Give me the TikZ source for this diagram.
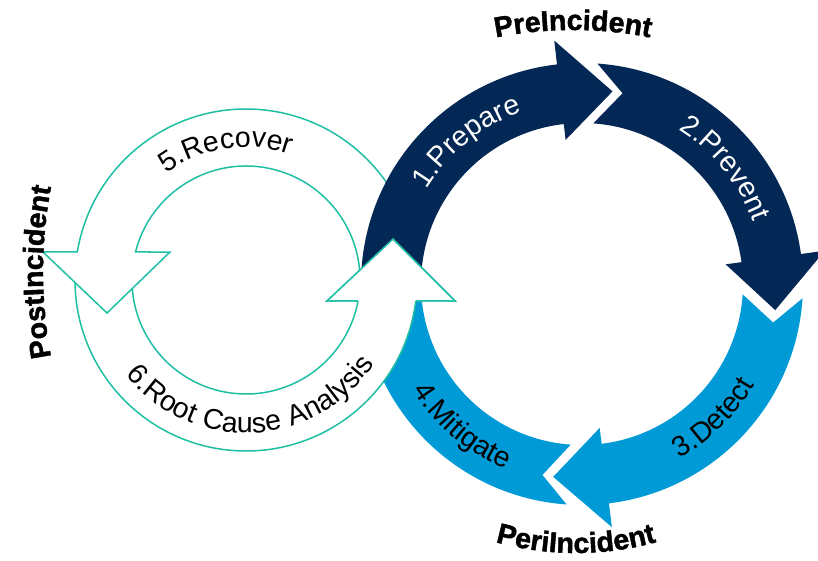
\documentclass[tikz,border=0pt]{standalone}
\usepackage{fontspec}
\setsansfont{Liberation Sans}
\newfontfamily\armfont{Liberation Sans}[LetterSpace=4]
\newfontfamily\hdfont{Liberation Sans Bold}[FakeBold=1.6,LetterSpace=2]
\usetikzlibrary{decorations.text}
\definecolor{navyc}{HTML}{032855}
\definecolor{bluec}{HTML}{009AD6}
\definecolor{tealc}{HTML}{1FBFA3}
\newcommand\armW{\fontsize{28.5}{30}\selectfont\armfont\color{white}}
\newcommand\armK{\fontsize{28.5}{30}\selectfont\armfont\color{black}}
\newcommand\hdK{\fontsize{28.5}{30}\selectfont\hdfont\color{black}}
\tikzset{
  navyarrow/.style={fill=navyc},
  bluearrow/.style={fill=bluec},
  tealarrow/.style={draw=tealc, line width=1.5pt, fill=white},
  tealline/.style={draw=tealc, line width=1.5pt},
  arclabel/.style={decorate, decoration={text along path, text align=center, text={#1}}}
}
\begin{document}
\begin{tikzpicture}[x=1pt,y=1pt]
\useasboundingbox (0,0) rectangle (818,-561);
\coordinate (R) at (582,-284);
\coordinate (L) at (246,-280);
% ---- right ring: blue arrows ----
\path[bluearrow] ([shift={(-94:221)}]R) arc[start angle=-94, end angle=-180, radius=221]
  -- ([shift={(-180:161)}]R) arc[start angle=-180, end angle=-94, radius=161]
  -- ([shift={(-101.7:195)}]R) -- cycle;
\path[bluearrow] ([shift={(-3.7:221)}]R) arc[start angle=-3.7, end angle=-83, radius=221]
  -- ([shift={(-83:245)}]R) -- ([shift={(-98.5:195)}]R) -- ([shift={(-83:145)}]R)
  -- ([shift={(-83:161)}]R) arc[start angle=-83, end angle=-3.7, radius=161]
  -- ([shift={(-11.4:195)}]R) -- cycle;
% ---- navy Prevent ----
\path[navyarrow] ([shift={(86:221)}]R) arc[start angle=86, end angle=7.8, radius=221]
  -- ([shift={(7.8:245)}]R) -- ([shift={(-7.7:195)}]R) -- ([shift={(7.8:145)}]R)
  -- ([shift={(7.8:161)}]R) arc[start angle=7.8, end angle=86, radius=161]
  -- ([shift={(78:195)}]R) -- cycle;
% ---- teal arrow 6 (full) ----
\coordinate (h6l) at (327,-301);
\coordinate (h6t) at (393,-239);
\coordinate (h6r) at (455,-301);
\path[tealarrow] ([shift={(175:171)}]L) arc[start angle=175, end angle=352.95, radius=171]
  -- (h6r) -- (h6t) -- (h6l)
  -- ([shift={(349.4:114)}]L) arc[start angle=349.4, end angle=175, radius=114] -- cycle;
% ---- teal arrow 5 (full) ----
\coordinate (h5l) at (43,-252);
\coordinate (h5t) at (107,-313);
\coordinate (h5r) at (170,-252);
\path[tealarrow] ([shift={(-3:171)}]L) arc[start angle=-3, end angle=170.57, radius=171]
  -- (h5l) -- (h5t) -- (h5r)
  -- ([shift={(165.78:114)}]L) arc[start angle=165.78, end angle=-3, radius=114] -- cycle;
% ---- navy Prepare ----
\path[navyarrow] ([shift={(180:221)}]R) arc[start angle=180, end angle=96.5, radius=221]
  -- ([shift={(96.5:245)}]R) -- ([shift={(81:195)}]R) -- ([shift={(96.5:145)}]R)
  -- ([shift={(96.5:161)}]R) arc[start angle=96.5, end angle=180, radius=161] -- cycle;
% ---- arrow 6 head on top ----
\fill[white] (h6l) -- (h6t) -- (h6r) -- cycle;
\path[tealline] ([shift={(349.4:114)}]L) -- (h6l) -- (h6t) -- (h6r) -- ([shift={(352.95:171)}]L);
% ---- labels in arrows ----
\path[arclabel={|\armW|1.Prepare}] ([shift={(179:182)}]R) arc[start angle=179, end angle=79, radius=182];
\path[arclabel={|\armW|2.Prevent}] ([shift={(89:182)}]R) arc[start angle=89, end angle=-11, radius=182];
\path[arclabel={|\armK|3.Detect}] ([shift={(-95.5:200)}]R) arc[start angle=-95.5, end angle=4.5, radius=200];
\path[arclabel={|\armK|4.Mitigate}] ([shift={(-180:200)}]R) arc[start angle=-180, end angle=-80, radius=200];
\path[arclabel={|\armK|5.Recover}] ([shift={(148.75:133)}]L) arc[start angle=148.75, end angle=48.75, radius=133];
\path[arclabel={|\armK|6.Root Cause Analysis}] ([shift={(192.5:153)}]L) arc[start angle=192.5, end angle=352.5, radius=153];
% ---- phase labels ----
\coordinate (cpre) at (573,-430);
\coordinate (cperi) at (576,-253);
\coordinate (cpost) at (493,-272);
\path[arclabel={|\hdK|PreIncident}] ([shift={(110:400)}]cpre) arc[start angle=110, end angle=70, radius=400];
\path[arclabel={|\hdK|PeriIncident}] ([shift={(250:300)}]cperi) arc[start angle=250, end angle=290, radius=300];
\path[arclabel={|\hdK|PostIncident}] ([shift={(200:450)}]cpost) arc[start angle=200, end angle=160, radius=450];
\end{tikzpicture}
\end{document}
